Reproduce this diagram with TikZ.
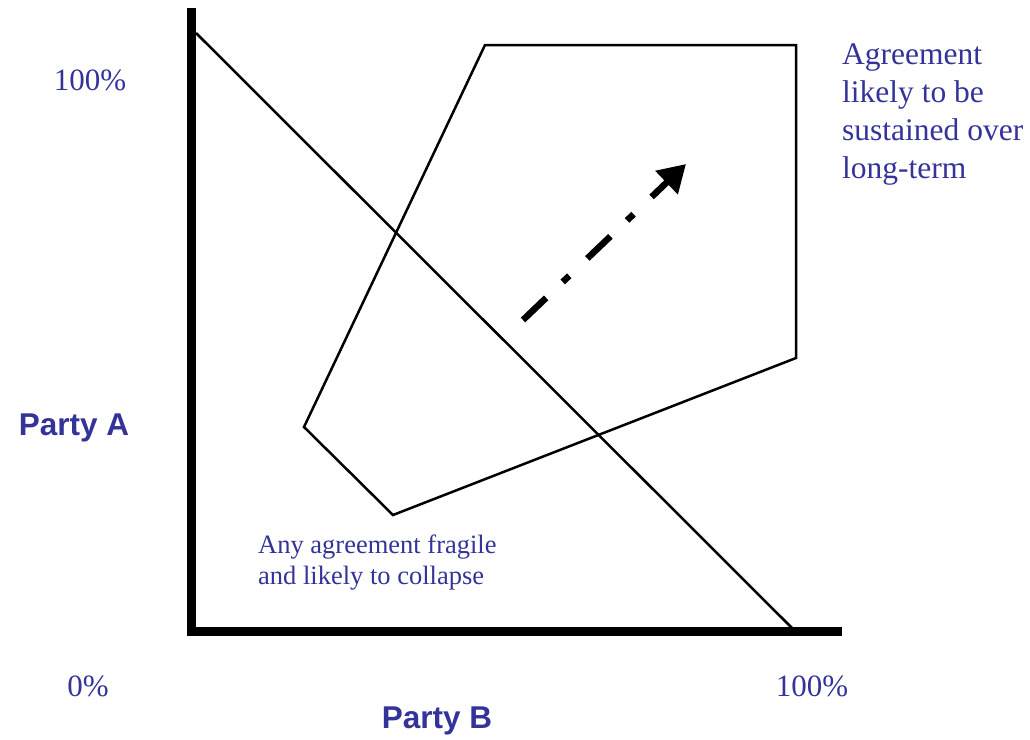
\documentclass[tikz,border=0pt]{standalone}
\usepackage{fontspec}
\setmainfont{Liberation Serif}
\setsansfont{Liberation Sans}
\usepackage{xcolor}
\usetikzlibrary{arrows.meta, positioning}
\definecolor{partyblue}{RGB}{51,51,153}

\begin{document}
\begin{tikzpicture}[
		x=1pt, y=-1pt,                     % Pixelraster, y nach unten
		axis/.style={line width=9pt, line join=miter},
		region/.style={line width=2.5pt, line join=miter},
		trend/.style={
			line width=6.5pt,
			dash pattern=on 32pt off 23pt on 9pt off 25pt,
			-{Triangle[length=27pt, width=31pt]}},
		ticklabel/.style={font=\fontsize{31}{36}\selectfont, text=partyblue, inner sep=0pt},
		axislabel/.style={font=\sffamily\bfseries\fontsize{31.5}{37}\selectfont, text=partyblue, inner sep=0pt},
		note/.style={
			text=partyblue,
			inner sep=0pt,
			align=left,
			anchor=north west}
		]
		
		\useasboundingbox (0,0) rectangle (1030,739);
		
		% Achsen
		\coordinate (ytop) at (191.5,8);
		\coordinate (origin) at (191.5,631);
		\coordinate (xend) at (842,631);
		\draw[axis] (ytop) -- (origin) -- (xend);
		
		% Diagonale 100% - 100%
		\coordinate (d0) at (196,33);
		\coordinate (d1) at (792,628);
		\draw[region] (d0) -- (d1);
		
		% Bereich moeglicher Einigungen
		\coordinate (p1) at (485,45);
		\coordinate (p2) at (796,45);
		\coordinate (p3) at (796,358);
		\coordinate (p4) at (393,515);
		\coordinate (p5) at (304,427);
		\draw[region] (p1) -- (p2) -- (p3) -- (p4) -- (p5) -- cycle;
		
		% Trendpfeil
		\coordinate (t0) at (523,320);
		\coordinate (t1) at (686,164);
		\draw[trend] (t0) -- (t1);
		
		% Achsenbeschriftung
		\node[ticklabel] (ymax) at (90,80) {100\%};
		\node[ticklabel] (zero) at (88,686) {0\%};
		\node[ticklabel] (xmax) at (812,686) {100\%};
		\node[axislabel] (partyA) at (74,428) {Party A};
		\node[axislabel] (partyB) at (437,721) {Party B};
		
		% Hinweise
		\node[note, font=\fontsize{31.5}{37.8}\selectfont] (sustained) at (842,44) {
			Agreement \\
			likely to be \\
			sustained over \\
			long-term
		};
		\node[note, font=\fontsize{26.5}{30.5}\selectfont] (fragile) at (258,535) {
			Any agreement fragile \\
			and likely to collapse
		};
		
	\end{tikzpicture}
\end{document}
